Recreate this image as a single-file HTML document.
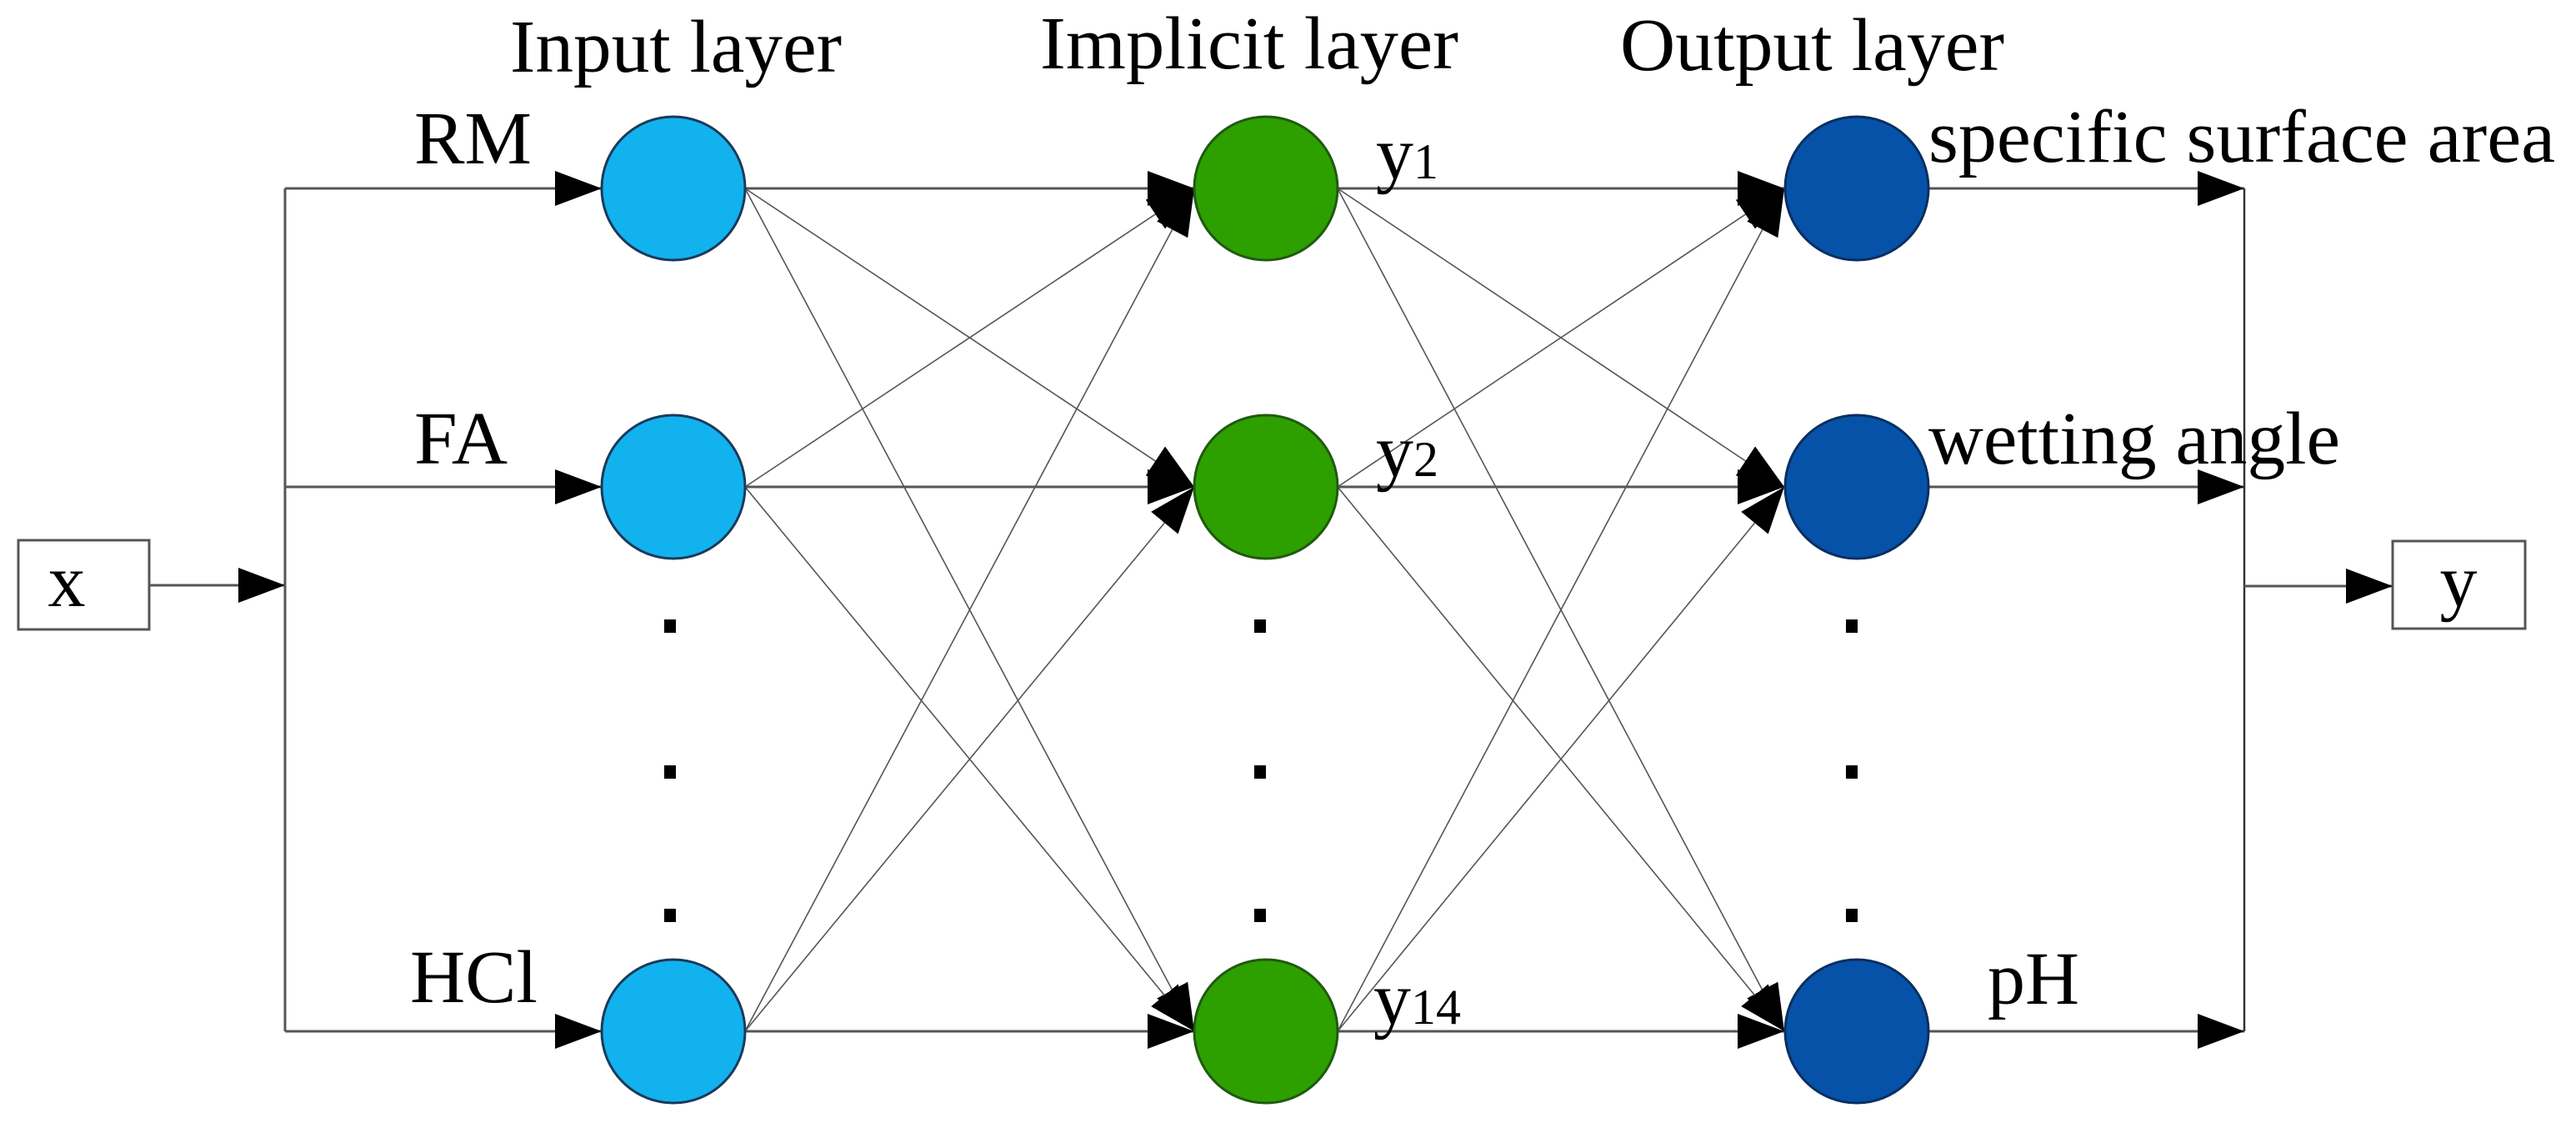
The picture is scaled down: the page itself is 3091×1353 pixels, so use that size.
<!DOCTYPE html>
<html><head><meta charset="utf-8"><style>html,body{margin:0;padding:0;background:#fff}svg{display:block}</style></head>
<body>
<svg width="3091" height="1353" viewBox="0 0 3091 1353" xmlns="http://www.w3.org/2000/svg" font-family="'Liberation Serif', serif">
<defs>
<marker id="a" markerUnits="userSpaceOnUse" markerWidth="56" markerHeight="42" refX="56" refY="21" orient="auto">
<path d="M0,0 L56,21 L0,42 Z" fill="#000"/>
</marker>
</defs>
<g stroke="#555" fill="none">
<!-- x box and arrow -->
<rect x="22" y="648" width="157" height="107" stroke-width="3"/>
<line x1="179" y1="702" x2="342" y2="702" stroke-width="3" marker-end="url(#a)"/>
<line x1="342" y1="226" x2="342" y2="1237" stroke-width="3"/>
<line x1="342" y1="226" x2="722" y2="226" stroke-width="3" marker-end="url(#a)"/>
<line x1="342" y1="584" x2="722" y2="584" stroke-width="3" marker-end="url(#a)"/>
<line x1="342" y1="1237" x2="722" y2="1237" stroke-width="3" marker-end="url(#a)"/>
<!-- input -> hidden -->
<line x1="894" y1="226" x2="1433" y2="226" stroke-width="3" marker-end="url(#a)"/>
<line x1="894" y1="584" x2="1433" y2="584" stroke-width="3" marker-end="url(#a)"/>
<line x1="894" y1="1237" x2="1433" y2="1237" stroke-width="3" marker-end="url(#a)"/>
<g stroke-width="1.6">
<line x1="894" y1="226" x2="1433" y2="584" marker-end="url(#a)"/>
<line x1="894" y1="226" x2="1433" y2="1237" marker-end="url(#a)"/>
<line x1="894" y1="584" x2="1433" y2="226" marker-end="url(#a)"/>
<line x1="894" y1="584" x2="1433" y2="1237" marker-end="url(#a)"/>
<line x1="894" y1="1237" x2="1433" y2="226" marker-end="url(#a)"/>
<line x1="894" y1="1237" x2="1433" y2="584" marker-end="url(#a)"/>
</g>
<!-- hidden -> output -->
<line x1="1605" y1="226" x2="2141" y2="226" stroke-width="3" marker-end="url(#a)"/>
<line x1="1605" y1="584" x2="2141" y2="584" stroke-width="3" marker-end="url(#a)"/>
<line x1="1605" y1="1237" x2="2141" y2="1237" stroke-width="3" marker-end="url(#a)"/>
<g stroke-width="1.6">
<line x1="1605" y1="226" x2="2141" y2="584" marker-end="url(#a)"/>
<line x1="1605" y1="226" x2="2141" y2="1237" marker-end="url(#a)"/>
<line x1="1605" y1="584" x2="2141" y2="226" marker-end="url(#a)"/>
<line x1="1605" y1="584" x2="2141" y2="1237" marker-end="url(#a)"/>
<line x1="1605" y1="1237" x2="2141" y2="226" marker-end="url(#a)"/>
<line x1="1605" y1="1237" x2="2141" y2="584" marker-end="url(#a)"/>
</g>
<!-- outputs -->
<line x1="2314" y1="226" x2="2693" y2="226" stroke-width="3" marker-end="url(#a)"/>
<line x1="2314" y1="584" x2="2693" y2="584" stroke-width="3" marker-end="url(#a)"/>
<line x1="2314" y1="1237" x2="2693" y2="1237" stroke-width="3" marker-end="url(#a)"/>
<line x1="2693" y1="226" x2="2693" y2="1237" stroke-width="2.5" stroke="#333"/>
<line x1="2693" y1="703" x2="2871" y2="703" stroke-width="3" marker-end="url(#a)"/>
<rect x="2871" y="649" width="159" height="105" stroke-width="3"/>
</g>
<!-- nodes -->
<g stroke="#1a3a5a" stroke-width="3">
<ellipse cx="808" cy="226" rx="86" ry="86" fill="#12b2ee"/>
<ellipse cx="808" cy="584" rx="86" ry="86" fill="#12b2ee"/>
<ellipse cx="808" cy="1237" rx="86" ry="86" fill="#12b2ee"/>
</g>
<g stroke="#1f5a10" stroke-width="3">
<ellipse cx="1519" cy="226" rx="86" ry="86" fill="#2da000"/>
<ellipse cx="1519" cy="584" rx="86" ry="86" fill="#2da000"/>
<ellipse cx="1519" cy="1237" rx="86" ry="86" fill="#2da000"/>
</g>
<g stroke="#0a2f5f" stroke-width="3">
<ellipse cx="2228" cy="226" rx="86" ry="86" fill="#0652a8"/>
<ellipse cx="2228" cy="584" rx="86" ry="86" fill="#0652a8"/>
<ellipse cx="2228" cy="1237" rx="86" ry="86" fill="#0652a8"/>
</g>
<!-- dots -->
<g fill="#000">
<rect x="797" y="743" width="14" height="16"/><rect x="797" y="918" width="14" height="16"/><rect x="797" y="1090" width="14" height="16"/>
<rect x="1505" y="743" width="14" height="16"/><rect x="1505" y="918" width="14" height="16"/><rect x="1505" y="1090" width="14" height="16"/>
<rect x="2215" y="743" width="14" height="16"/><rect x="2215" y="918" width="14" height="16"/><rect x="2215" y="1090" width="14" height="16"/>
</g>
<!-- text -->
<g fill="#000" font-size="90">
<text x="612" y="86" textLength="398" lengthAdjust="spacingAndGlyphs">Input layer</text>
<text x="1248" y="82" textLength="502" lengthAdjust="spacingAndGlyphs">Implicit layer</text>
<text x="1944" y="84" textLength="461" lengthAdjust="spacingAndGlyphs">Output layer</text>
<text x="497" y="196" textLength="141" lengthAdjust="spacingAndGlyphs">RM</text>
<text x="497" y="556" textLength="112" lengthAdjust="spacingAndGlyphs">FA</text>
<text x="492" y="1202" textLength="153" lengthAdjust="spacingAndGlyphs">HCl</text>
<text x="1651" y="214">y<tspan font-size="60" dy="0">1</tspan></text>
<text x="1651" y="571">y<tspan font-size="60">2</tspan></text>
<text x="1648" y="1228">y<tspan font-size="60">14</tspan></text>
<text x="2314" y="194" textLength="752" lengthAdjust="spacingAndGlyphs">specific surface area</text>
<text x="2314" y="556" textLength="494" lengthAdjust="spacingAndGlyphs">wetting angle</text>
<text x="2385" y="1204">pH</text>
<text x="80" y="727" text-anchor="middle">x</text>
<text x="2950" y="727" text-anchor="middle">y</text>
</g>
</svg>
</body></html>
